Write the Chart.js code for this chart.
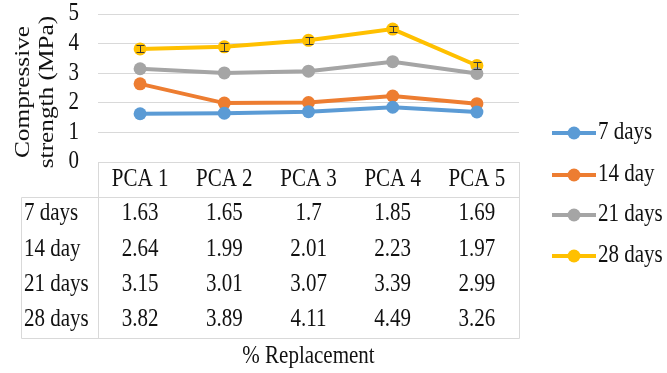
<!DOCTYPE html>
<html>
<head>
<meta charset="utf-8">
<script src="https://cdn.jsdelivr.net/npm/chart.js@4"></script>
<style>
  html, body { margin: 0; padding: 0; background: #fff; }
  #wrap { width: 667px; height: 373px; position: relative; }
</style>
</head>
<body>
<div id="wrap"><canvas id="strengthChart"></canvas></div>
<script>
// mixes and curing ages
var mixes = ["PCA 1", "PCA 2", "PCA 3", "PCA 4", "PCA 5"];
var ages = ["7 days", "14 day", "21 days", "28 days"];

// compressive strength, MPa
var days7 = [1.63, 1.65, 1.7, 1.85, 1.69];
var days14 = [2.64, 1.99, 2.01, 2.23, 1.97];
var days21 = [3.15, 3.01, 3.07, 3.39, 2.99];
var days28 = [3.82, 3.89, 4.11, 4.49, 3.26];

// error bars on the 28 day results
var err28 = [0.12, 0.13, 0.12, 0.10, 0.13];

var yTicks = [0, 1, 2, 3, 4, 5];
var yTitle = ['Compressive', 'strength (MPa)'];
var xTitle = '% Replacement';

var colors = ['#5B9BD5', '#ED7D31', '#A5A5A5', '#FFC000'];
var FONT = "'Liberation Serif', 'Times New Roman', serif";
var TXT = '#111';
var SY = 1.15;   // text is a little taller than wide

function mkSet(label, data, color) {
    return {
        label: label,
        data: data,
        borderColor: color,
        backgroundColor: color,
        borderWidth: 4,
        pointRadius: 6.5,
        pointHoverRadius: 6.5,
        pointBorderWidth: 0,
        tension: 0
    };
}

function text(ctx, s, x, y, align) {
    ctx.save();
    ctx.translate(x, y);
    ctx.scale(1, SY);
    ctx.textAlign = align;
    ctx.fillText(s, 0, 0);
    ctx.restore();
}

function vtext(ctx, s, x, y) {
    ctx.save();
    ctx.translate(x, y);
    ctx.rotate(-Math.PI / 2);
    ctx.scale(SY, 1);
    ctx.textAlign = 'center';
    ctx.fillText(s, 0, 0);
    ctx.restore();
}

// error bars, y labels, data table, axis caption and legend
var extras = {
    id: 'extras',
    afterDatasetsDraw: function (chart) {
        var ctx = chart.ctx;
        var x = chart.scales.x;
        var y = chart.scales.y;

        ctx.save();
        ctx.strokeStyle = '#3a3a3a';
        ctx.lineWidth = 1;
        for (var i = 0; i < days28.length; i++) {
            var px = Math.round(x.getPixelForValue(i)) + 0.5;
            var top = Math.round(y.getPixelForValue(days28[i] + err28[i])) + 0.5;
            var bot = Math.round(y.getPixelForValue(days28[i] - err28[i])) + 0.5;
            ctx.beginPath();
            ctx.moveTo(px, top); ctx.lineTo(px, bot);
            ctx.moveTo(px - 4, top); ctx.lineTo(px + 4, top);
            ctx.moveTo(px - 4, bot); ctx.lineTo(px + 4, bot);
            ctx.stroke();
        }
        ctx.restore();
    },
    afterDraw: function (chart) {
        var ctx = chart.ctx;
        var area = chart.chartArea;
        var x = chart.scales.x;
        var y = chart.scales.y;
        var left = area.left, right = area.right;
        var headTop = Math.round(area.bottom), headBot = 197, tableL = 21, tableB = 338;
        var rowY = [214, 250, 285, 320];
        var rows = [days7, days14, days21, days28];

        ctx.save();
        ctx.strokeStyle = '#d9d9d9';
        ctx.lineWidth = 1;
        ctx.beginPath();
        ctx.moveTo(left + 0.5, headTop); ctx.lineTo(left + 0.5, tableB + 0.5);
        ctx.moveTo(right + 0.5, headTop); ctx.lineTo(right + 0.5, tableB + 0.5);
        ctx.moveTo(tableL + 0.5, headBot + 0.5); ctx.lineTo(right + 0.5, headBot + 0.5);
        ctx.moveTo(tableL + 0.5, headBot + 0.5); ctx.lineTo(tableL + 0.5, tableB + 0.5);
        ctx.moveTo(tableL + 0.5, tableB + 0.5); ctx.lineTo(right + 0.5, tableB + 0.5);
        ctx.stroke();

        ctx.fillStyle = TXT;
        ctx.font = '21px ' + FONT;
        ctx.textBaseline = 'middle';

        // y tick labels and title
        y.ticks.forEach(function (t) {
            text(ctx, String(t.value), 79, y.getPixelForValue(t.value), 'right');
        });
        ctx.font = '22px ' + FONT;
        vtext(ctx, yTitle[0], 23, 92);
        vtext(ctx, yTitle[1], 47, 92);
        ctx.font = '21px ' + FONT;

        // data table
        mixes.forEach(function (m, i) {
            text(ctx, m, x.getPixelForValue(i), 180, 'center');
        });
        rows.forEach(function (vals, r) {
            text(ctx, ages[r], 24, rowY[r], 'left');
            vals.forEach(function (v, i) {
                text(ctx, String(v), x.getPixelForValue(i), rowY[r], 'center');
            });
        });

        text(ctx, xTitle, (left + right) / 2, 357, 'center');

        // legend
        var legY = [133, 175, 215, 256];
        chart.data.datasets.forEach(function (ds, i) {
            var ly = legY[i];
            ctx.strokeStyle = ds.borderColor;
            ctx.lineWidth = 4;
            ctx.beginPath();
            ctx.moveTo(552, ly); ctx.lineTo(596, ly);
            ctx.stroke();
            ctx.fillStyle = ds.borderColor;
            ctx.beginPath();
            ctx.arc(574, ly, 6.5, 0, Math.PI * 2);
            ctx.fill();
            ctx.fillStyle = TXT;
            text(ctx, ds.label, 598, ly, 'left');
        });
        ctx.restore();
    }
};

var ctx = document.getElementById('strengthChart').getContext('2d');
var chart = new Chart(ctx, {
    type: 'line',
    data: {
        labels: mixes,
        datasets: [
            mkSet(ages[0], days7, colors[0]),
            mkSet(ages[1], days14, colors[1]),
            mkSet(ages[2], days21, colors[2]),
            mkSet(ages[3], days28, colors[3])
        ]
    },
    options: {
        responsive: true,
        maintainAspectRatio: false,
        animation: false,
        layout: { padding: { top: 14, right: 148, bottom: 211, left: 0 } },
        plugins: {
            legend: { display: false },
            tooltip: { enabled: false }
        },
        scales: {
            x: { display: false, offset: true },
            y: {
                min: 0,
                max: 5,
                afterFit: function (scale) { scale.width = 98; },
                afterBuildTicks: function (scale) {
                    scale.ticks = yTicks.map(function (v) { return { value: v }; });
                },
                border: { display: false },
                grid: { color: '#d9d9d9', lineWidth: 1, drawTicks: false },
                ticks: { display: false },
                title: { display: false }
            }
        }
    },
    plugins: [extras]
});
</script>
</body>
</html>
